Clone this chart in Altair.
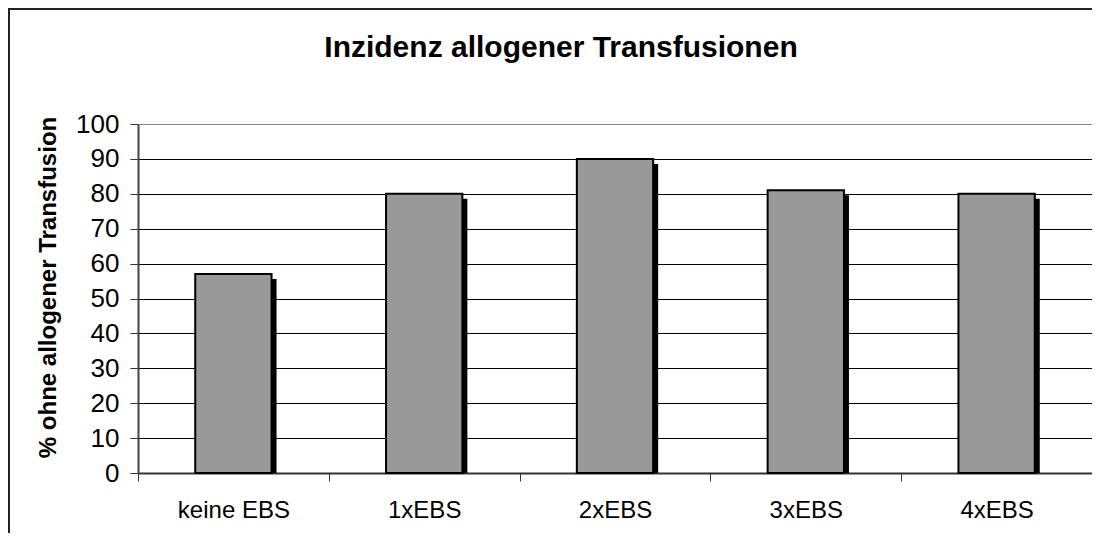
import altair as alt
import pandas as pd

categories = ["keine EBS", "1xEBS", "2xEBS", "3xEBS", "4xEBS"]
values = [57, 80, 90, 81, 80]
y_ticks = [0, 10, 20, 30, 40, 50, 60, 70, 80, 90, 100]
title_text = "Inzidenz allogener Transfusionen"

df = pd.DataFrame({"cat": categories, "val": values})
FONT = "Liberation Sans"
PLOT_W, PLOT_H = 954, 349

x_enc = alt.X("cat:N", sort=categories, title=None,
              scale=alt.Scale(paddingInner=0, paddingOuter=0),
              axis=alt.Axis(labelAngle=0, labelFontSize=24, labelColor="black",
                            labelFont=FONT, labelPadding=17, tickBand="extent",
                            tickSize=8, tickColor="#333333", tickWidth=1,
                            domainColor="#333333", domainWidth=2, grid=False))
y_axis = alt.Axis(values=y_ticks, labelFontSize=26, labelColor="black",
                  labelFont=FONT, labelPadding=11, tickSize=8,
                  tickColor="#333333", tickWidth=1,
                  domainColor="#444444", domainWidth=2,
                  titleFont=FONT, titleFontSize=24, titleFontWeight="bold",
                  titleColor="black", titlePadding=15, titleY=163,
                  grid=True, gridWidth=1,
                  gridColor={"condition": {"test": "datum.value === 100", "value": "#888888"}, "value": "black"})
y_scale = alt.Scale(domain=[0, 100], nice=False)

base = alt.Chart(df)

# shadow: same bar, shifted 5px right and its top 5px lower (5px in data units)
shadow = base.transform_calculate(
    sval=f"datum.val - 5 * 100 / {PLOT_H}"
).mark_bar(color="black", width={"band": 0.4}, xOffset=5).encode(
    x=x_enc,
    y=alt.Y("sval:Q", title="% ohne allogener Transfusion", scale=y_scale, axis=y_axis))
bars = base.mark_bar(color="#999999", stroke="black", strokeWidth=2, width={"band": 0.4}).encode(
    x=x_enc,
    y=alt.Y("val:Q", title="% ohne allogener Transfusion", scale=y_scale, axis=y_axis))

one = alt.Chart(pd.DataFrame({"t": [title_text]}))
frame_left = one.mark_rect(color="#222222", clip=False).encode(
    x=alt.value(-130), x2=alt.value(-128), y=alt.value(-116), y2=alt.value(PLOT_H + 60))
frame_top = one.mark_rect(color="#222222", clip=False).encode(
    x=alt.value(-130), x2=alt.value(PLOT_W), y=alt.value(-116), y2=alt.value(-114))
title = one.mark_text(font=FONT, fontSize=30, fontWeight="bold", color="black",
                      align="center", baseline="alphabetic", clip=False).encode(
    text="t:N", x=alt.value(423), y=alt.value(-67))

chart = alt.layer(shadow, bars, frame_left, frame_top, title).properties(
    width=PLOT_W, height=PLOT_H,
    padding={"left": 130, "top": 116, "right": 0, "bottom": 60},
    autosize=alt.AutoSizeParams(type="none"),
).configure_view(stroke="#888888", strokeWidth=2).configure(background="white")

chart.save("out.html", embed_options={"renderer": "svg", "actions": False})
